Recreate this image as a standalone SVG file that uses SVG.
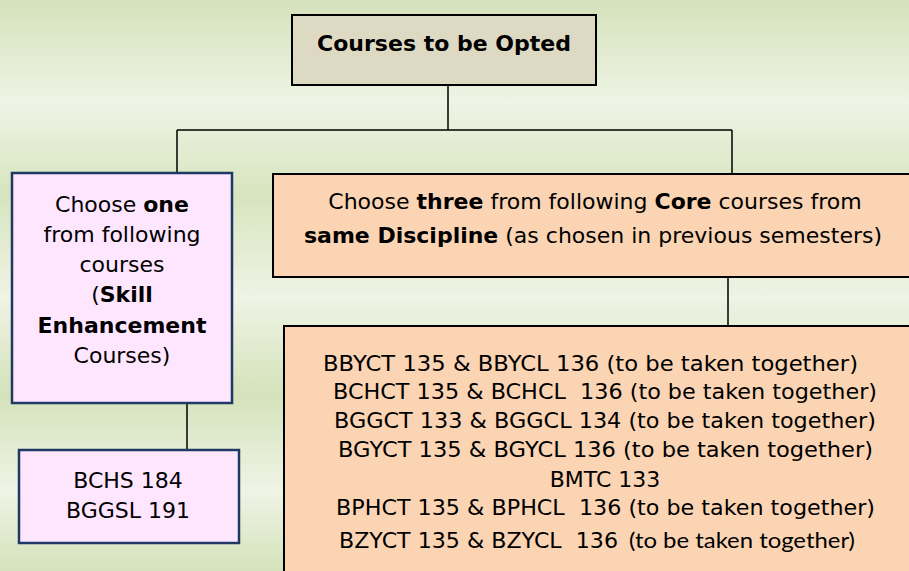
<svg xmlns="http://www.w3.org/2000/svg" width="909" height="571" viewBox="0 0 909 571">
<defs>
<linearGradient id="bg" x1="0" y1="0" x2="0" y2="1">
<stop offset="0" stop-color="#d5e2bb"/>
<stop offset="0.18" stop-color="#eff4e5"/>
<stop offset="0.34" stop-color="#d7e4bf"/>
<stop offset="0.52" stop-color="#eff4e5"/>
<stop offset="0.69" stop-color="#d5e2bb"/>
<stop offset="0.86" stop-color="#eff4e5"/>
<stop offset="1" stop-color="#d5e2bb"/>
</linearGradient>
<style>
text{font-family:"DejaVu Sans",Verdana,sans-serif;font-size:22px;fill:#000;white-space:pre}
.b{font-weight:bold}
.c{text-anchor:middle}
.tan{fill:#ddd9c3;stroke:#000;stroke-width:2}
.pink{fill:#ffe6ff;stroke:#1f3864;stroke-width:2.5}
.orange{fill:#fbd4b4;stroke:#000;stroke-width:2}
.con{fill:none;stroke:#000;stroke-width:1.5}
.sm{font-family:Lato,"Liberation Sans",sans-serif;font-size:21px}
</style>
</defs>
<rect x="0" y="0" width="909" height="571" fill="url(#bg)"/>

<g id="connectors">
<path class="con" d="M448 85V130M177 130H732M177 130V173M732 130V174M728 277V326M187 403V450"/>
</g>

<g id="root">
<rect class="tan" x="292" y="15" width="304" height="70"/>
<text class="b c" x="444" y="51">Courses to be Opted</text>
</g>

<g id="skill">
<rect class="pink" x="12" y="173" width="220" height="230"/>
<text class="c" x="122" y="212">Choose <tspan class="b">one</tspan></text>
<text class="c" x="122" y="242">from following</text>
<text class="c" x="122" y="272">courses</text>
<text class="c" x="122" y="302">(<tspan class="b">Skill</tspan></text>
<text class="c" x="122" y="333"><tspan class="b">Enhancement</tspan></text>
<text class="c" x="122" y="363">Courses)</text>
</g>

<g id="skill-list">
<rect class="pink" x="19" y="450" width="220" height="93"/>
<text class="c" x="128" y="488">BCHS 184</text>
<text class="c" x="128" y="518">BGGSL 191</text>
</g>

<g id="core">
<rect class="orange" x="273" y="174" width="640" height="103"/>
<text class="c" x="595" y="209">Choose <tspan class="b">three</tspan> from following <tspan class="b">Core</tspan> courses from</text>
<text class="c" x="593" y="243"><tspan class="b">same Discipline</tspan> (as chosen in previous semesters)</text>
</g>

<g id="core-list">
<rect class="orange" x="284" y="326" width="630" height="260"/>
<text x="323" y="371" textLength="535" lengthAdjust="spacingAndGlyphs">BBYCT 135 &amp; BBYCL 136 (to be taken together)</text>
<text x="333" y="399" textLength="544" lengthAdjust="spacingAndGlyphs">BCHCT 135 &amp; BCHCL  136 (to be taken together)</text>
<text x="334" y="428" textLength="542" lengthAdjust="spacingAndGlyphs">BGGCT 133 &amp; BGGCL 134 (to be taken together)</text>
<text x="338" y="457" textLength="535" lengthAdjust="spacingAndGlyphs">BGYCT 135 &amp; BGYCL 136 (to be taken together)</text>
<text class="c" x="605" y="487">BMTC 133</text>
<text x="336" y="515" textLength="539" lengthAdjust="spacingAndGlyphs">BPHCT 135 &amp; BPHCL  136 (to be taken together)</text>
<text x="339" y="548" textLength="279" lengthAdjust="spacingAndGlyphs">BZYCT 135 &amp; BZYCL  136</text>
<text class="sm" x="629" y="548" textLength="226" lengthAdjust="spacingAndGlyphs">(to be taken together)</text>
</g>
</svg>
